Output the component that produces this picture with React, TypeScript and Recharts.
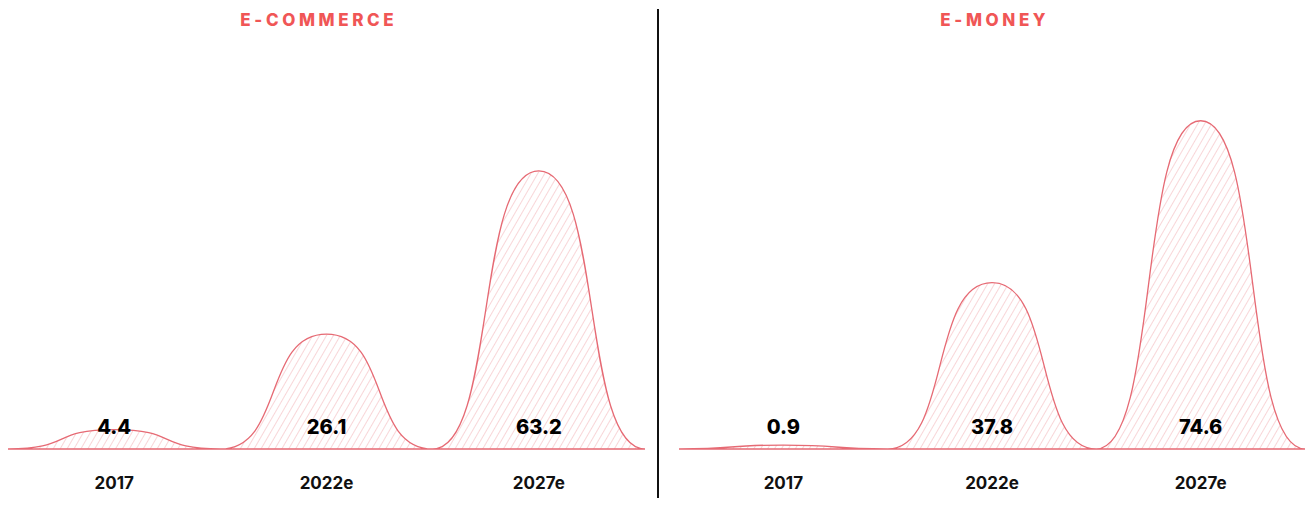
import { AreaChart, Area, XAxis, YAxis, LabelList } from "recharts";

const categories = ["2017", "2022e", "2027e"];
const ecommerceValues = [4.4, 26.1, 63.2];
const emoneyValues = [0.9, 37.8, 74.6];

const TITLE_COLOR = "#f05656";
const LINE_COLOR = "#e66a74";
const HATCH_COLOR = "#f1adb1";
const FONT = "Inter, 'Noto Sans', sans-serif";

// each value becomes a bell: zero points sit between the categories,
// plus one extra zero past each edge so the ends stay flat (clipped off)
function buildRows(values: number[]) {
  const rows: { x: number; value: number }[] = [
    { x: -1, value: 0 },
    { x: 0, value: 0 },
  ];
  values.forEach((v, i) => {
    rows.push({ x: 2 * i + 1, value: v });
    rows.push({ x: 2 * i + 2, value: 0 });
  });
  rows.push({ x: values.length * 2 + 1, value: 0 });
  return rows;
}

// cubic with flat tangents at every point, control handles pulled in further
// than a plain monotone curve so the bumps get round tops and steep sides
const HANDLE = 0.6;
function bellCurve(context: any) {
  let line = NaN;
  let started = false;
  let px = 0;
  let py = 0;
  return {
    areaStart() {
      line = 0;
    },
    areaEnd() {
      line = NaN;
    },
    lineStart() {
      started = false;
    },
    lineEnd() {
      if (line || (line !== 0 && started)) context.closePath();
      line = 1 - line;
    },
    point(x: number, y: number) {
      x = +x;
      y = +y;
      if (!started) {
        started = true;
        if (line) context.lineTo(x, y);
        else context.moveTo(x, y);
      } else {
        const dx = x - px;
        context.bezierCurveTo(px + dx * HANDLE, py, x - dx * HANDLE, y, x, y);
      }
      px = x;
      py = y;
    },
  };
}

const VALUE_LABEL_Y = 427;

function ValueLabel(props: any) {
  const { x, value, index } = props;
  if (!value) return null;
  return (
    <text
      key={index}
      x={x}
      y={VALUE_LABEL_Y}
      textAnchor="middle"
      dominantBaseline="central"
      fill="#000"
      fontFamily={FONT}
      fontWeight={800}
      fontSize={20}
    >
      {Number(value).toFixed(1)}
    </text>
  );
}

function CategoryTick(props: any) {
  const { x, payload } = props;
  const label = categories[(payload.value - 1) / 2];
  if (!label) return null;
  return (
    <text
      x={x}
      y={483}
      textAnchor="middle"
      dominantBaseline="central"
      fill="#111"
      fontFamily={FONT}
      fontWeight={700}
      fontSize={17}
    >
      {label}
    </text>
  );
}

interface PanelProps {
  id: string;
  title: string;
  titleCenter: number;
  values: number[];
  left: number;
  width: number;
  margin: { left: number; right: number };
}

function Panel({ id, title, titleCenter, values, left, width, margin }: PanelProps) {
  const rows = buildRows(values);
  const ticks = values.map((_, i) => 2 * i + 1);
  return (
    <div style={{ position: "absolute", left, top: 0, width, height: 513 }}>
      <div
        style={{
          position: "absolute",
          top: 9,
          left: titleCenter - 200,
          width: 400,
          paddingLeft: 3.6,
          boxSizing: "border-box",
          textAlign: "center",
          color: TITLE_COLOR,
          fontFamily: FONT,
          fontWeight: 800,
          fontSize: 17,
          letterSpacing: 3.6,
          lineHeight: "22px",
        }}
      >
        {title}
      </div>
      <AreaChart
        width={width}
        height={513}
        data={rows}
        margin={{ top: 97, right: margin.right, left: margin.left, bottom: 0 }}
      >
        <defs>
          <pattern
            id={id}
            patternUnits="userSpaceOnUse"
            width={6}
            height={6}
            patternTransform="rotate(30)"
          >
            <line x1={0} y1={0} x2={0} y2={6} stroke={HATCH_COLOR} strokeWidth={1} />
          </pattern>
        </defs>
        <XAxis
          dataKey="x"
          type="number"
          domain={[0, values.length * 2]}
          allowDataOverflow
          ticks={ticks}
          axisLine={false}
          tickLine={false}
          interval={0}
          height={64}
          tick={<CategoryTick />}
        />
        <YAxis hide domain={[0, 80]} />
        <Area
          type={bellCurve as any}
          dataKey="value"
          stroke={LINE_COLOR}
          strokeWidth={1.3}
          fill={`url(#${id})`}
          fillOpacity={1}
          isAnimationActive={false}
          dot={false}
          activeDot={false}
        >
          <LabelList dataKey="value" content={<ValueLabel />} />
        </Area>
      </AreaChart>
    </div>
  );
}

export default function App() {
  return (
    <div
      style={{
        position: "absolute",
        left: 0,
        top: 0,
        width: 1309,
        height: 513,
        background: "#fff",
      }}
    >
      <Panel
        id="hatchLeft"
        title="E-COMMERCE"
        titleCenter={317}
        values={ecommerceValues}
        left={0}
        width={658}
        margin={{ left: 8, right: 13 }}
      />
      <div
        style={{
          position: "absolute",
          left: 657,
          top: 9,
          width: 1.5,
          height: 489,
          background: "#111",
        }}
      />
      <Panel
        id="hatchRight"
        title="E-MONEY"
        titleCenter={993 - 659}
        values={emoneyValues}
        left={659}
        width={650}
        margin={{ left: 20, right: 4 }}
      />
    </div>
  );
}
